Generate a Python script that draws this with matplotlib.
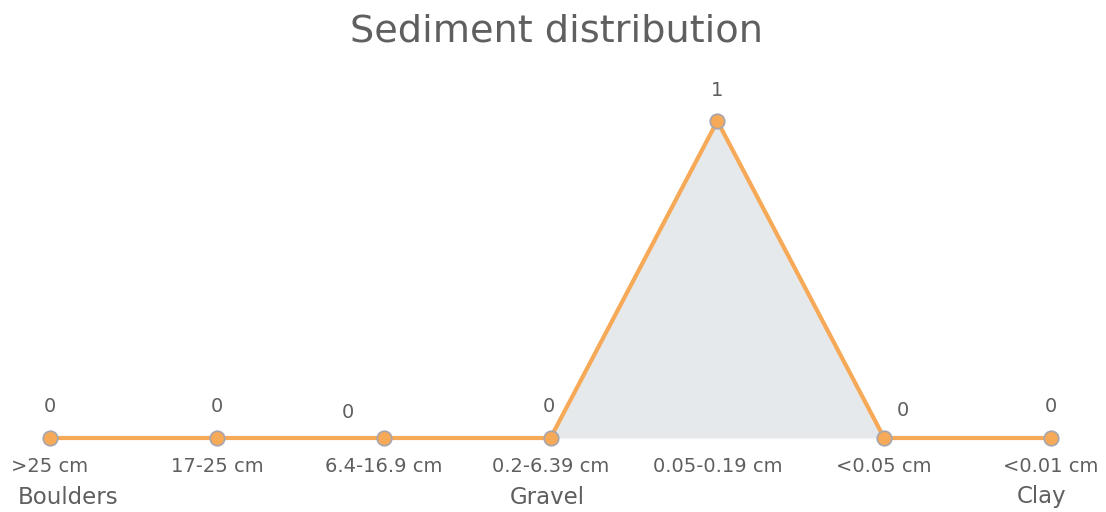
import matplotlib
matplotlib.use("Agg")
import matplotlib.pyplot as plt

categories = [">25 cm", "17-25 cm", "6.4-16.9 cm", "0.2-6.39 cm", "0.05-0.19 cm", "<0.05 cm", "<0.01 cm"]
values = [0, 0, 0, 0, 1, 0, 0]
group_labels = ["Boulders", "", "", "Gravel", "", "", "Clay"]
title = "Sediment distribution"

# label offsets in pixels (dx, dy) for value labels
label_offsets = [(0, 31), (0, 31), (-36, 25), (-2, 31), (0, 31), (19, 28), (0, 31)]
group_offsets = [(18, 0), (0, 0), (0, 0), (-3, 0), (0, 0), (0, 0), (-9, 0)]

TEXT = "#5f5f5f"
LINE = "#F6A956"
FILL = "#E6E9EC"
FONT = ["DejaVu Sans"]

W, H, DPI = 1106, 512, 100
fig = plt.figure(figsize=(W / DPI, H / DPI), dpi=DPI)
fig.patch.set_facecolor("white")
ax = fig.add_axes([50 / W, (H - 438) / H, (1051 - 50) / W, (438 - 121) / H])
ax.set_xlim(0, len(categories) - 1)
ax.set_ylim(0, 1)
ax.axis("off")

x = list(range(len(categories)))
ax.fill_between(x, values, 0, color=FILL, linewidth=0, clip_on=False, zorder=1)
ax.plot(x, values, color=LINE, linewidth=3, clip_on=False, zorder=2,
        solid_joinstyle="miter")
ax.scatter(x, values, s=110, color=LINE, edgecolors="#A6A6B0", linewidths=1.2,
           clip_on=False, zorder=3)

for i, (xi, v) in enumerate(zip(x, values)):
    dx, dy = label_offsets[i]
    ax.annotate(f"{v}", (xi, v), xytext=(dx * 72 / DPI, dy * 72 / DPI),
                textcoords="offset points", ha="center", va="center",
                fontsize=14, color=TEXT, family=FONT, annotation_clip=False)
    ax.annotate(categories[i], (xi, 0), xytext=(0, -29 * 72 / DPI),
                textcoords="offset points", ha="center", va="center",
                fontsize=14, color=TEXT, family=FONT, annotation_clip=False)
    if group_labels[i]:
        gx, gy = group_offsets[i]
        ax.annotate(group_labels[i], (xi, 0), xytext=(gx * 72 / DPI, (-59 + gy) * 72 / DPI),
                    textcoords="offset points", ha="center", va="center",
                    fontsize=16.5, color=TEXT, family=FONT, annotation_clip=False)

fig.text(556 / W, (H - 32) / H, title, ha="center", va="center",
         fontsize=27.5, color=TEXT, family=FONT)

fig.savefig("out.png", dpi=DPI, facecolor="white")
